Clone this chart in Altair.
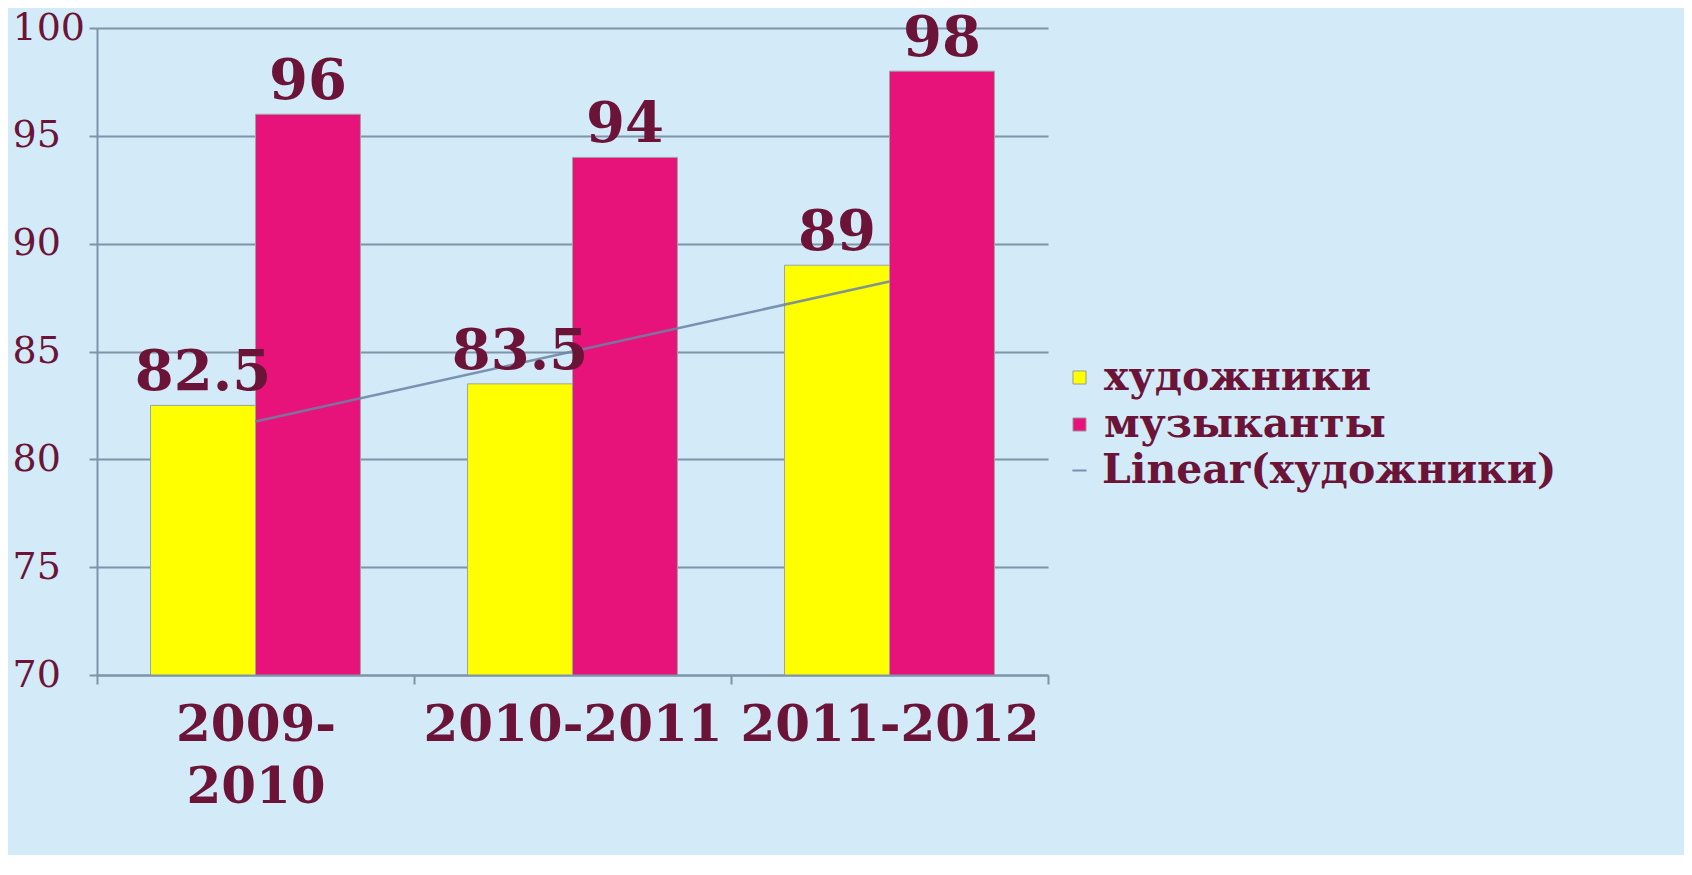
import altair as alt
import pandas as pd
import numpy as np

years = ["2009-2010", "2010-2011", "2011-2012"]
artists = [82.5, 83.5, 89]
musicians = [96, 94, 98]
series_names = ["художники", "музыканты"]
trend_name = "Linear(художники)"

rows = []
for y, a, m in zip(years, artists, musicians):
    rows.append({"year": y, "series": series_names[0], "value": a, "label": f"{a:g}"})
    rows.append({"year": y, "series": series_names[1], "value": m, "label": f"{m:g}"})
bars_df = pd.DataFrame(rows)

xi = np.arange(1, len(years) + 1)
slope, intercept = np.polyfit(xi, artists, 1)
trend_df = pd.DataFrame({"year": years, "trend": slope * xi + intercept, "name": trend_name})

TXT = "#6b1437"
GRID = "#7d94a9"
FONT = "DejaVu Serif"

x_enc = alt.X("year:N", sort=years, title=None,
              scale=alt.Scale(paddingInner=0, paddingOuter=0),
              axis=alt.Axis(labelAngle=0, tickBand="extent", ticks=True, tickSize=9,
                            tickColor=GRID, tickWidth=2, domainColor=GRID, domainWidth=2,
                            labelFont=FONT, labelFontWeight="bold", labelFontSize=50,
                            labelColor=TXT, labelPadding=16, labelBaseline="top",
                            labelLineHeight=62, grid=False, zindex=1, labelLimit=500,
                            labelOverlap=False,
                            labelExpr="datum.value == '2009-2010' ? ['2009-', '2010'] : datum.value"))
y_enc = alt.Y("value:Q", title=None,
              scale=alt.Scale(domain=[70, 100], nice=False, zero=False),
              axis=alt.Axis(values=[70, 75, 80, 85, 90, 95, 100], grid=True, gridColor=GRID,
                            gridWidth=2, domainColor=GRID, domainWidth=2, tickColor=GRID,
                            tickWidth=2, tickSize=8, labelFont=FONT, labelFontSize=38,
                            labelColor=TXT, labelAlign="left", labelPadding=77))

base = alt.Chart(bars_df)
bars = base.mark_bar(stroke="#9aa5a0", strokeWidth=1, clip=True).encode(
    x=x_enc,
    y=y_enc,
    xOffset=alt.XOffset("series:N", sort=series_names,
                        scale=alt.Scale(paddingOuter=0.51, paddingInner=0)),
    color=alt.Color("series:N", sort=series_names, title=None,
                    scale=alt.Scale(domain=series_names, range=["#ffff00", "#e8137a"]),
                    legend=alt.Legend(orient="none", legendX=962, legendY=329,
                                      symbolType="square", symbolSize=170,
                                      symbolStrokeColor="#999999", symbolStrokeWidth=1,
                                      labelFont=FONT, labelFontWeight="bold", labelFontSize=41,
                                      labelColor=TXT, rowPadding=5, labelOffset=4,
                                      labelLimit=700)),
)
texts = base.mark_text(baseline="bottom", dy=-3, font=FONT, fontWeight="bold",
                       fontSize=56, color=TXT).encode(
    x=alt.X("year:N", sort=years),
    xOffset=alt.XOffset("series:N", sort=series_names),
    y=alt.Y("value:Q"),
    text="label:N",
)
line = alt.Chart(trend_df).mark_line(strokeWidth=2.5, opacity=0.85).encode(
    x=alt.X("year:N", sort=years),
    y=alt.Y("trend:Q"),
    stroke=alt.Stroke("name:N", title=None,
                      scale=alt.Scale(domain=[trend_name], range=["#6a83a6"]),
                      legend=alt.Legend(orient="none", legendX=962, legendY=422,
                                        symbolType="stroke", symbolSize=200,
                                        symbolStrokeWidth=2,
                                        labelFont=FONT, labelFontWeight="bold",
                                        labelFontSize=41, labelColor=TXT, labelOffset=2,
                                        labelLimit=700)),
)

chart = alt.layer(bars, line, texts).properties(
    width=951, height=647,
    autosize=alt.AutoSizeParams(type="none"),
    padding={"left": 89, "top": 20, "right": 636, "bottom": 180},
    background="#d3eaf8",
).configure_view(stroke=None)

chart.save("out.html", embed_options={"renderer": "svg", "actions": False})
